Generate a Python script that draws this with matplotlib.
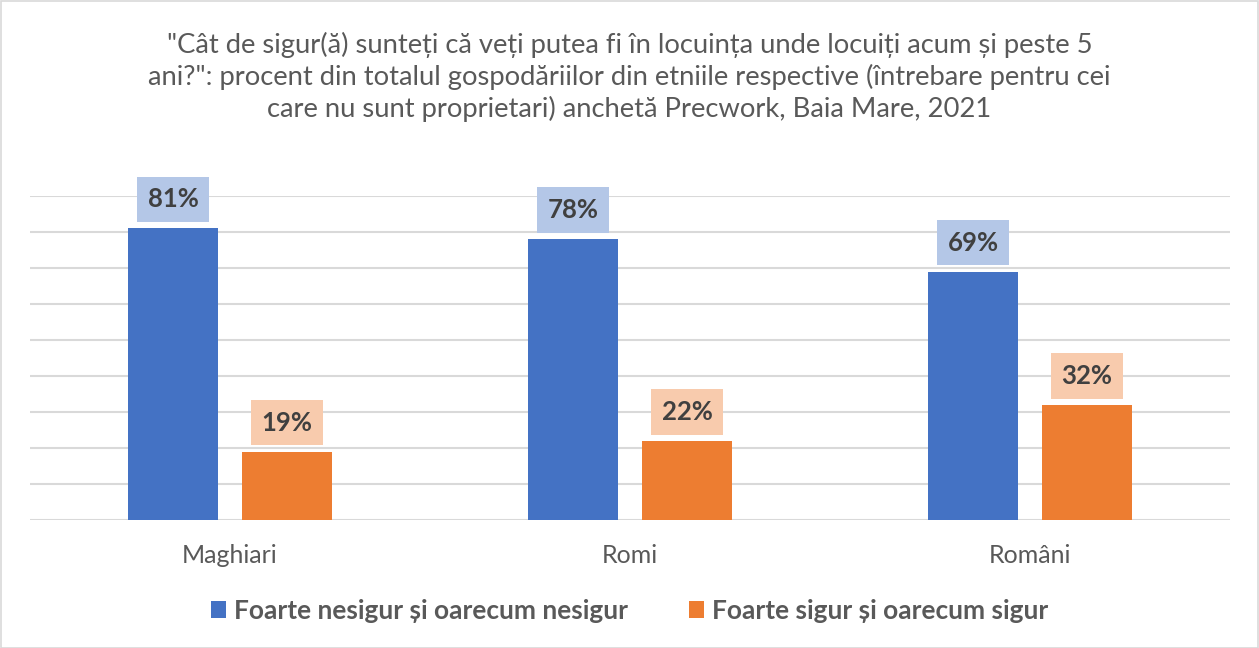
import matplotlib
matplotlib.use("Agg")
import matplotlib.pyplot as plt
from matplotlib.patches import Patch, Rectangle
import numpy as np

plt.rcParams['font.family'] = ['Lato', 'Noto Sans', 'DejaVu Sans']

title = ('"Cât de sigur(ă) sunteți că veți putea fi în locuința unde locuiți acum și peste 5\n'
         'ani?": procent din totalul gospodăriilor din etniile respective (întrebare pentru cei\n'
         'care nu sunt proprietari) anchetă Precwork, Baia Mare, 2021')
categories = ['Maghiari', 'Romi', 'Români']
series_names = ['Foarte nesigur și oarecum nesigur', 'Foarte sigur și oarecum sigur']
nesigur = [81, 78, 69]
sigur = [19, 22, 32]

bar_colors = ['#4472C4', '#ED7D31']
label_fill = ['#B4C7E7', '#F8CBAD']
txt = '#595959'
lbl_txt = '#404040'

fig = plt.figure(figsize=(12.59, 6.48), dpi=100)
ax = fig.add_axes([30/1259, 1-520/648, 1200/1259, 324/648])

x = np.arange(len(categories))
w = 0.225
off = 0.1425
for vals, dx, col, lf in [(nesigur, -off, bar_colors[0], label_fill[0]),
                          (sigur, off, bar_colors[1], label_fill[1])]:
    bars = ax.bar(x + dx, vals, width=w, color=col, zorder=3)
    for b, v in zip(bars, vals):
        ax.annotate(f'{v}%', xy=(b.get_x() + b.get_width()/2, v), xytext=(0, 17),
                    textcoords='offset pixels', ha='center', va='bottom',
                    fontsize=18.5, fontweight='bold', color=lbl_txt, zorder=5,
                    bbox=dict(boxstyle='square,pad=0.42', fc=lf, ec='none'))

ax.set_xlim(-0.5, 2.5)
ax.set_ylim(0, 90)
ax.set_yticks(np.arange(0, 91, 10))
ax.set_yticklabels([])
ax.tick_params(axis='y', length=0)
ax.tick_params(axis='x', length=0, pad=17, labelsize=18, labelcolor=txt)
ax.set_xticks(x)
ax.set_xticklabels(categories)
ax.grid(axis='y', color='#D9D9D9', linewidth=1.5, zorder=0)
for s in ax.spines.values():
    s.set_visible(False)

fig.text(0.5, 1-77/648, title, ha='center', va='center', fontsize=19.7,
         color=txt, linespacing=1.27)

handles = [Patch(facecolor=c, edgecolor='none') for c in bar_colors]
leg = fig.legend(handles, series_names, loc='center', bbox_to_anchor=(0.5, 1-611/648),
                 ncol=2, frameon=False, handlelength=0.6, handleheight=0.6,
                 handletextpad=0.3, columnspacing=2.3,
                 prop={'size': 18.9, 'weight': 'bold'})
for t in leg.get_texts():
    t.set_color(txt)

fig.patches.append(Rectangle((0.5/1259, 0.5/648), 1-1.5/1259, 1-1.5/648,
                             transform=fig.transFigure, fill=False,
                             edgecolor='#D9D9D9', linewidth=1.2))

fig.savefig('out.png', dpi=100, facecolor='white')
